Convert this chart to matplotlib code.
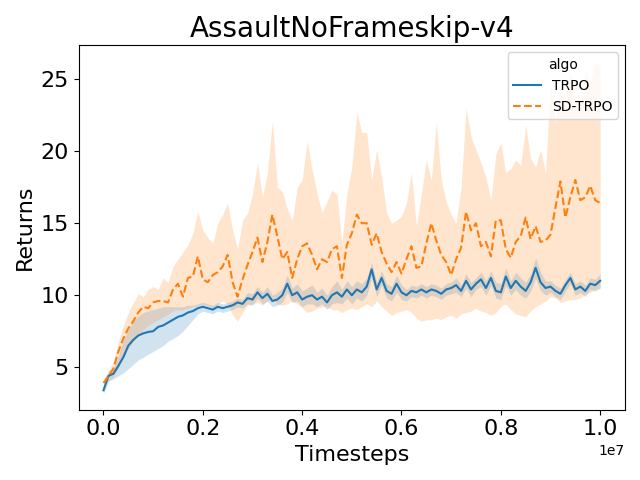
#!/usr/bin/env python

'''Returns curves for TRPO vs SD-TRPO on AssaultNoFrameskip-v4.'''

import numpy as np
import matplotlib
matplotlib.use('Agg')
import matplotlib.pyplot as plt

########################################################################
# Data (timesteps in steps of 1e5)

timesteps = np.arange(101) * 1e5

trpo_mean = [
    3.4, 4.4, 4.55, 5.1, 5.7, 6.5, 6.9, 7.2, 7.35, 7.45,
    7.5, 7.8, 7.9, 8.1, 8.3, 8.5, 8.6, 8.8, 8.9, 9.1,
    9.2, 9.1, 9.0, 9.2, 9.1, 9.2, 9.3, 9.5, 9.4, 9.8,
    9.7, 10.2, 9.8, 10.1, 9.6, 9.7, 10.0, 10.8, 10.0, 10.2,
    9.7, 9.9, 10.0, 9.7, 9.9, 9.5, 10.0, 10.2, 9.9, 10.4,
    10.0, 10.4, 10.2, 10.6, 11.8, 10.4, 11.2, 10.3, 10.1, 10.8,
    10.2, 10.0, 10.3, 10.2, 10.4, 10.2, 10.4, 10.3, 10.1, 10.4,
    10.5, 10.7, 10.3, 11.0, 10.4, 10.8, 11.1, 10.5, 11.2, 10.3,
    10.2, 11.3, 10.5, 11.0, 10.6, 10.3, 10.9, 11.9, 10.9, 10.5,
    10.6, 10.3, 10.1, 10.7, 11.2, 10.4, 10.6, 10.3, 10.8, 10.7,
    11.0,
]
trpo_hi = [
    3.6, 4.7, 4.9, 5.8, 6.9, 7.6, 8.2, 8.55, 8.8, 8.9,
    9.0, 9.1, 9.2, 9.2, 9.2, 9.2, 9.2, 9.3, 9.3, 9.4,
    9.5, 9.4, 9.3, 9.5, 9.4, 9.5, 9.6, 9.8, 9.7, 10.2,
    10.1, 10.6, 10.2, 10.6, 10.0, 10.2, 10.5, 11.4, 10.5, 10.8,
    10.3, 10.5, 10.7, 10.2, 10.5, 10.0, 10.6, 11.0, 10.4, 11.0,
    10.6, 11.0, 10.8, 11.2, 12.3, 10.9, 11.7, 10.8, 10.6, 11.4,
    10.7, 10.4, 10.7, 10.6, 10.8, 10.6, 10.8, 10.7, 10.5, 10.8,
    10.9, 11.2, 10.7, 11.5, 10.9, 11.2, 11.6, 11.0, 11.7, 10.9,
    10.8, 11.9, 11.0, 11.6, 11.2, 10.9, 11.5, 12.6, 11.6, 11.0,
    11.0, 10.7, 10.5, 11.1, 11.6, 10.8, 11.0, 10.7, 11.2, 11.1,
    11.5,
]
trpo_lo = [
    3.2, 4.0, 4.2, 4.4, 4.6, 4.9, 5.2, 5.5, 5.7, 5.9,
    6.1, 6.3, 6.5, 6.8, 7.0, 7.2, 7.5, 7.9, 8.3, 8.7,
    8.9, 8.8, 8.7, 8.9, 8.8, 8.9, 9.0, 9.2, 9.1, 9.4,
    9.3, 9.8, 9.4, 9.6, 9.2, 9.3, 9.5, 10.2, 9.5, 9.6,
    9.2, 9.4, 9.4, 9.2, 9.4, 9.0, 9.4, 9.5, 9.4, 9.8,
    9.4, 9.8, 9.6, 10.0, 11.2, 9.9, 10.7, 9.8, 9.6, 10.2,
    9.7, 9.6, 9.9, 9.8, 10.0, 9.8, 10.0, 9.9, 9.7, 10.0,
    10.1, 10.2, 9.9, 10.5, 9.9, 10.4, 10.6, 10.0, 10.7, 9.8,
    9.7, 10.7, 10.0, 10.4, 10.0, 9.8, 10.3, 11.2, 10.3, 10.0,
    10.2, 9.9, 9.7, 10.3, 10.8, 10.0, 10.2, 9.9, 10.4, 10.3,
    10.5,
]

sd_mean = [
    3.9, 4.4, 4.9, 6.1, 7.0, 7.7, 8.2, 8.8, 9.2, 9.1,
    9.5, 9.6, 9.6, 9.5, 10.4, 10.8, 9.9, 11.2, 11.3, 12.7,
    11.1, 10.9, 11.4, 11.6, 12.0, 12.8, 10.9, 9.9, 11.1, 12.1,
    13.0, 14.0, 12.3, 13.7, 15.6, 14.1, 12.5, 13.0, 11.2, 12.5,
    13.4, 13.6, 12.8, 11.8, 12.5, 12.3, 13.2, 13.4, 11.2, 13.5,
    14.3, 15.6, 15.0, 15.0, 13.5, 14.3, 13.0, 12.2, 11.6, 12.3,
    11.5, 12.5, 13.4, 11.9, 12.0, 13.6, 15.0, 13.8, 12.8, 12.3,
    11.4, 12.5, 13.3, 15.8, 14.5, 15.0, 13.4, 13.7, 12.7, 15.2,
    15.2, 13.2, 12.6, 13.7, 14.1, 15.4, 13.9, 14.8, 13.7, 13.8,
    14.2, 16.1, 17.9, 15.4, 16.8, 18.0, 16.6, 16.8, 17.6, 16.6,
    16.4,
]
sd_hi = [
    4.1, 4.8, 5.4, 6.8, 7.9, 8.8, 9.5, 10.1, 9.9, 10.4,
    10.6, 10.4, 11.2, 10.9, 12.0, 12.5, 13.0, 13.5, 14.3, 15.8,
    14.5, 14.0, 13.6, 15.0, 15.6, 16.4, 14.5, 13.2, 15.2, 15.7,
    17.0, 19.2, 16.8, 18.5, 22.1, 17.5, 17.2, 16.0, 15.2, 17.5,
    18.0, 20.7, 18.7, 17.1, 15.7, 16.5, 17.3, 17.0, 13.6, 17.0,
    18.9, 22.7, 21.3, 21.3, 18.0, 20.1, 18.2, 15.7, 15.0, 15.2,
    15.5, 16.4, 18.5, 14.8, 17.0, 19.4, 18.0, 22.0, 18.0, 16.5,
    15.6, 15.0, 17.5, 23.0, 21.0, 20.1, 19.2, 18.2, 16.6, 19.8,
    20.6, 18.5, 18.8, 19.4, 19.0, 21.8, 19.5, 18.9, 20.1, 18.5,
    24.7, 22.0, 24.4, 23.3, 25.4, 24.0, 23.0, 25.8, 24.7, 26.2,
    25.9,
]
sd_lo = [
    3.7, 4.1, 4.3, 5.0, 5.7, 6.3, 6.8, 7.2, 7.6, 7.9,
    8.1, 8.3, 8.5, 8.7, 8.9, 9.0, 9.0, 9.1, 9.2, 9.3,
    9.4, 9.3, 9.1, 9.4, 9.6, 9.4, 8.6, 8.2, 8.8, 9.3,
    9.4, 9.5, 9.3, 9.6, 9.8, 9.4, 9.3, 9.4, 9.6, 9.4,
    9.1, 8.8, 8.9, 9.1, 9.2, 9.2, 9.0, 9.0, 8.8, 9.0,
    9.1, 9.0, 9.2, 9.4, 9.2, 9.6, 9.2, 8.9, 8.6, 8.8,
    8.9, 9.0, 8.8, 8.4, 8.2, 8.3, 8.3, 8.4, 8.3, 8.5,
    8.6, 8.4, 8.7, 8.8, 8.9, 9.1, 8.9, 8.8, 8.6, 8.8,
    9.2, 9.4, 9.0, 8.7, 8.6, 8.5, 8.9, 9.2, 9.4, 9.6,
    9.9, 9.8, 9.5, 9.6, 9.7, 9.7, 9.8, 10.1, 10.2, 10.4,
    10.5,
]

########################################################################
# Plot

fig, ax = plt.subplots(figsize=(6.4, 4.8), dpi=100)

ax.fill_between(timesteps, trpo_lo, trpo_hi, color='tab:blue', alpha=0.2, linewidth=0)
ax.fill_between(timesteps, sd_lo, sd_hi, color='tab:orange', alpha=0.2, linewidth=0)
ax.plot(timesteps, trpo_mean, color='tab:blue', linewidth=1.5, label='TRPO')
ax.plot(timesteps, sd_mean, color='tab:orange', linewidth=1.5, linestyle='--', label='SD-TRPO')

ax.set_title('AssaultNoFrameskip-v4', fontsize=20)
ax.set_xlabel('Timesteps', fontsize=16)
ax.set_ylabel('Returns', fontsize=16)
ax.set_yticks([5, 10, 15, 20, 25])
ax.tick_params(labelsize=16)
ax.legend(title='algo', loc='upper right')

fig.tight_layout()
fig.savefig('out.png')
